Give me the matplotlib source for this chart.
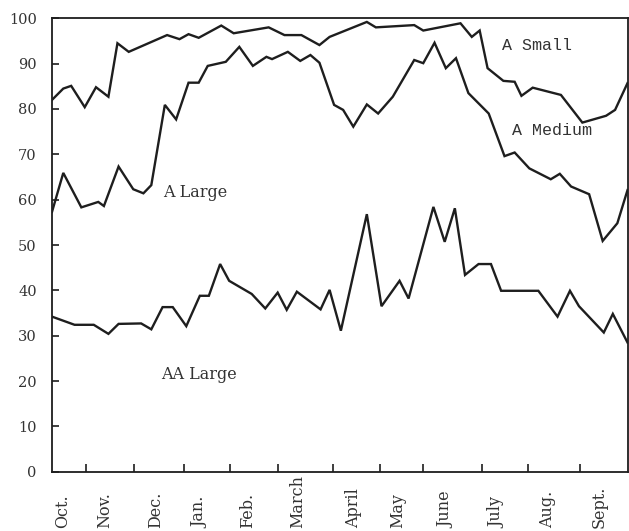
import matplotlib
matplotlib.use("Agg")
import matplotlib.pyplot as plt

# Weekly readings, x in weeks from start of October
small_x = [0.0, 1.0, 1.7, 2.9, 3.9, 5.0, 5.8, 6.8, 10.2, 11.3, 12.1, 13.0, 15.0, 16.1,
           19.2, 20.6, 22.1, 23.7, 24.6, 27.9, 28.7, 32.1, 32.9, 36.2, 37.2, 37.9,
           38.6, 40.0, 41.0, 41.6, 42.6, 45.1, 47.0, 49.1, 49.9, 51.0]
small_y = [82.0, 84.5, 85.1, 80.4, 84.8, 82.7, 94.5, 92.6, 96.3, 95.4, 96.5, 95.7, 98.4, 96.7,
           98.0, 96.3, 96.3, 94.1, 95.9, 99.2, 98.0, 98.5, 97.3, 98.9, 95.9, 97.3,
           89.0, 86.2, 86.0, 82.9, 84.7, 83.1, 77.0, 78.5, 79.8, 85.7]

medium_x = [0.0, 1.0, 2.6, 4.1, 4.6, 5.9, 7.2, 8.1, 8.8, 10.0, 11.0, 12.1, 13.0, 13.8,
            15.4, 16.6, 17.8, 19.0, 19.5, 20.9, 22.0, 22.9, 23.7, 25.0, 25.8, 26.7,
            27.9, 28.9, 30.2, 32.1, 32.9, 33.9, 34.9, 35.8, 36.9, 38.7, 40.1, 41.0,
            42.3, 44.2, 45.0, 46.0, 47.6, 48.8, 50.1, 51.0]
medium_y = [57.3, 65.9, 58.3, 59.5, 58.6, 67.3, 62.3, 61.4, 63.2, 80.9, 77.7, 85.8, 85.8, 89.5,
            90.4, 93.7, 89.5, 91.5, 91.0, 92.6, 90.6, 91.9, 90.2, 80.9, 79.8, 76.1,
            81.0, 79.0, 82.7, 90.8, 90.1, 94.6, 89.0, 91.2, 83.5, 79.0, 69.6, 70.4,
            66.9, 64.5, 65.7, 62.9, 61.2, 50.9, 54.8, 62.1]

aa_x = [0.0, 2.0, 3.7, 5.0, 5.9, 7.9, 8.8, 9.8, 10.7, 11.9, 13.1, 13.9, 14.9, 15.7,
        17.7, 18.9, 20.0, 20.8, 21.7, 23.8, 24.6, 25.6, 27.9, 29.2, 30.8, 31.6,
        33.8, 34.8, 35.7, 36.6, 37.8, 38.9, 39.8, 43.1, 44.8, 45.9, 46.7, 48.9,
        49.7, 51.0]
aa_y = [34.2, 32.4, 32.4, 30.4, 32.6, 32.7, 31.4, 36.3, 36.3, 32.1, 38.8, 38.8, 45.8, 42.1,
        39.2, 36.0, 39.5, 35.7, 39.7, 35.8, 40.1, 31.1, 56.8, 36.5, 42.1, 38.2,
        58.4, 50.7, 58.1, 43.4, 45.8, 45.8, 39.9, 39.9, 34.2, 39.9, 36.5, 30.7,
        34.8, 28.5]

months = ['Oct.', 'Nov.', 'Dec.', 'Jan.', 'Feb.', 'March',
          'April', 'May', 'June', 'July', 'Aug.', 'Sept.']
month_pos = [0.9, 4.7, 9.2, 13.1, 17.3, 21.8, 26.7, 30.6, 34.9, 39.4, 43.9, 48.5]
month_bounds = [3.0, 7.3, 11.7, 15.8, 20.0, 24.9, 29.1, 32.9, 38.1, 42.2, 46.8]

y_ticks = [0, 10, 20, 30, 40, 50, 60, 70, 80, 90, 100]

ink = '#1e1e1e'
serif = 'DejaVu Serif'
mono = 'Liberation Mono'

fig = plt.figure(figsize=(6.29, 5.31), dpi=100)
ax = fig.add_axes([52 / 629, 59.3 / 531, 575.5 / 629, 453.4 / 531])

for xs, ys in [(small_x, small_y), (medium_x, medium_y), (aa_x, aa_y)]:
    ax.plot(xs, ys, color=ink, lw=1.7, solid_joinstyle='miter')

ax.set_xlim(0, 51)
ax.set_ylim(0, 100)

for s in ax.spines.values():
    s.set_color(ink)
    s.set_linewidth(1.3)

# y axis: inward ticks, serif numbers
ax.set_yticks(y_ticks)
ax.set_yticklabels([str(v) for v in y_ticks], family=serif, fontsize=10.5, color='#333333')
ax.tick_params(axis='y', direction='in', length=5, width=1.2, color=ink, pad=11)

# x axis: ticks mark month boundaries, names drawn separately
ax.set_xticks(month_bounds)
ax.set_xticklabels([])
ax.tick_params(axis='x', direction='in', length=6, width=1.2, color=ink)

trans = ax.get_xaxis_transform()
for name, pos in zip(months, month_pos):
    ax.text(pos, -0.124, name, transform=trans, rotation=90, ha='center', va='bottom',
            family=serif, fontsize=11.5, color='#333333')

# curve labels
ax.text(39.9, 93.9, 'A Small', family=mono, fontsize=12, color='#333333', va='center')
ax.text(40.8, 75.2, 'A Medium', family=mono, fontsize=12, color='#333333', va='center')
ax.text(9.85, 61.5, 'A Large', family=serif, fontsize=11.5, color='#333333', va='center')
ax.text(9.7, 21.5, 'AA Large', family=serif, fontsize=11.5, color='#333333', va='center')

fig.savefig('out.png', dpi=100, facecolor='white')
